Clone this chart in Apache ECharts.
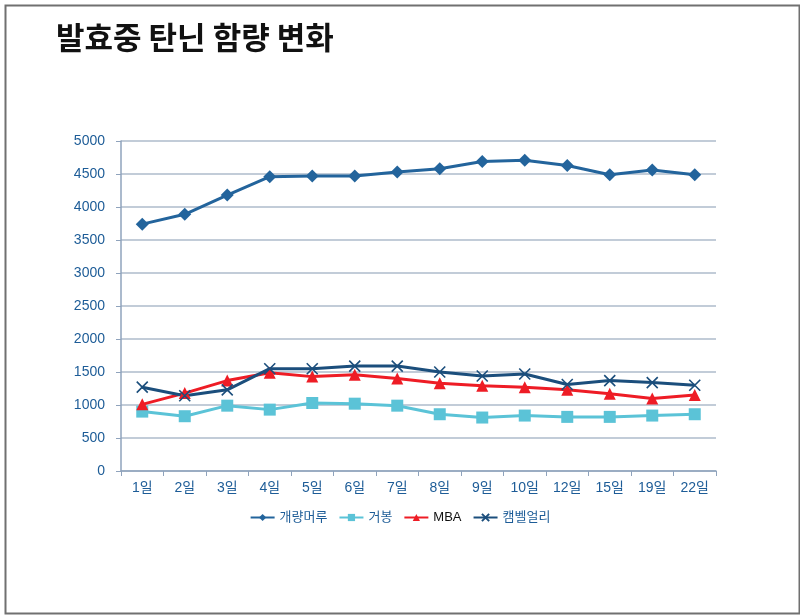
<!DOCTYPE html>
<html>
<head>
<meta charset="utf-8">
<script src="https://cdn.jsdelivr.net/npm/echarts@6/dist/echarts.min.js"></script>
<style>
html,body{margin:0;padding:0;background:#fff;}
#chart{width:800px;height:615px;}
</style>
</head>
<body>
<div id="chart"></div>
<script>
const titleText = '발효중 탄닌 함량 변화';
const categories = ['1일','2일','3일','4일','5일','6일','7일','8일','9일','10일','12일','15일','19일','22일'];
const seriesNames = ['개량머루','거봉','MBA','캠벨얼리'];
const gaeryangmeoru = [3740, 3890, 4180, 4460, 4470, 4470, 4530, 4580, 4690, 4710, 4630, 4490, 4560, 4490];
const geobong = [900, 830, 990, 930, 1030, 1020, 990, 860, 810, 840, 820, 820, 840, 860];
const mba = [1010, 1180, 1370, 1490, 1430, 1460, 1400, 1330, 1290, 1270, 1230, 1170, 1100, 1150];
const campbell = [1270, 1140, 1230, 1550, 1550, 1590, 1590, 1500, 1440, 1470, 1310, 1370, 1340, 1300];
const yMin = 0, yMax = 5000, yStep = 500;

const labelColor = '#1D5C97';
const fontFam = '"Liberation Sans", "Noto Sans CJK KR", sans-serif';

const chart = echarts.init(document.getElementById('chart'), null, {renderer:'canvas'});
const xPath = 'path://M0,0L10,10M10,0L0,10';

function mk(name, data, color, symbol, size, extra) {
  return Object.assign({
    name: name, type: 'line', data: data,
    symbol: symbol, symbolSize: size,
    showAllSymbol: true,
    lineStyle: {color: color, width: 3},
    itemStyle: {color: color},
    emphasis: {disabled: true},
    animation: false
  }, extra || {});
}

chart.setOption({
  animation: false,
  backgroundColor: '#fff',
  graphic: [{
    type: 'rect', left: 3, top: 3, z: -10,
    shape: {x: 0, y: 0, width: 794, height: 608},
    style: {fill: 'none', stroke: '#707070', lineWidth: 2}
  }],
  title: {
    text: titleText, left: 51, top: 17,
    textStyle: {fontFamily: '"Noto Sans CJK KR", sans-serif', fontWeight: 'bold', fontSize: 31, color: '#111'}
  },
  grid: {left: 121, right: 84, top: 141, bottom: 144, containLabel: false},
  xAxis: {
    type: 'category', data: categories, boundaryGap: true,
    axisLine: {lineStyle: {color: '#8FA3BC', width: 1.5}},
    axisTick: {show: true, alignWithLabel: false, length: 5, lineStyle: {color: '#8FA3BC'}},
    axisLabel: {color: labelColor, fontSize: 14, fontFamily: fontFam, margin: 10, interval: 0}
  },
  yAxis: {
    type: 'value', min: yMin, max: yMax, interval: yStep,
    axisLine: {show: true, lineStyle: {color: '#8FA3BC', width: 1.5}},
    axisTick: {show: true, length: 5, lineStyle: {color: '#8FA3BC'}},
    splitLine: {lineStyle: {color: '#AEBBCB', width: 1.5}},
    axisLabel: {color: labelColor, fontSize: 14, fontFamily: fontFam, margin: 16,
      formatter: function(v){ return String(v); }}
  },
  legend: {
    data: seriesNames, left: 'center', top: 506,
    itemWidth: 24, itemHeight: 9, itemGap: 11,
    formatter: function(n){ return n === 'MBA' ? '{b|' + n + '}' : '{a|' + n + '}'; },
    textStyle: {
      fontSize: 13, fontFamily: fontFam,
      rich: {a: {color: labelColor, fontSize: 13, fontFamily: fontFam}, b: {color: '#111', fontSize: 13, fontFamily: fontFam}}
    }
  },
  series: [
    mk('개량머루', gaeryangmeoru, '#23649C', 'diamond', 13),
    mk('거봉', geobong, '#5BC3D7', 'rect', 12),
    mk('MBA', mba, '#EE1C25', 'triangle', 12),
    mk('캠벨얼리', campbell, '#1B4E7C', xPath, 11, {itemStyle: {color: 'none', borderColor: '#1B4E7C', borderWidth: 1.6}})
  ]
});
</script>
</body>
</html>
